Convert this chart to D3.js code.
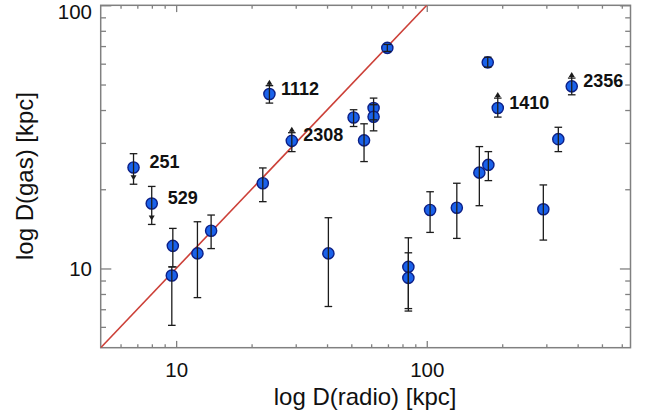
<!DOCTYPE html>
<html>
<head>
<meta charset="utf-8">
<script src="https://cdn.jsdelivr.net/npm/d3@7"></script>
<style>
  html, body { margin: 0; padding: 0; background: #fff; }
  svg { display: block; }
  text { font-family: "Liberation Sans", Arial, Helvetica, sans-serif; fill: #111; }
</style>
</head>
<body>
<div id="chart"></div>
<script>
// ---- data ----
const radio   = [6.76, 7.99, 23.56, 28.94, 192.0, 378.8, 9.70, 9.61, 12.16, 13.79, 22.17, 40.5, 51.05, 56.2, 61.35, 61.35, 69.6, 175.1, 334.9, 162.1, 176.1, 103.1, 131.8, 291.8, 84.45, 84.45];
const gas     = [24.2, 17.65, 46.0, 30.55, 40.7, 49.2, 12.19, 9.40, 11.41, 13.91, 21.08, 11.41, 37.48, 30.68, 40.7, 37.7, 68.9, 60.7, 31.0, 23.13, 24.75, 16.68, 17.02, 16.78, 10.14, 9.21];
const gasLow  = [20.9, 14.7, 42.5, 27.8, 37.6, 45.7, 10.14, 6.08, 7.75, 11.9, 17.94, 7.17, 34.63, 25.48, 36.7, 33.34, 66.8, 58.2, 27.8, 17.32, 21.57, 13.71, 13.01, 12.82, 7.04, 6.89];
const gasHigh = [27.3, 20.5, 49.5, 32.8, 44.4, 52.9, 14.2, 10.14, 15.05, 15.96, 24.1, 15.59, 40.1, 35.46, 44.4, 41.9, 71.0, 63.5, 34.4, 29.05, 27.8, 19.57, 21.08, 20.77, 13.08, 11.47];
const pointLabels = ["251", "529", "1112", "2308", "1410", "2356"];   // first six points
const limitDir    = ["down", "down", "up", "up", "up", "up"];         // first six points
const oneToOne = [5, 100];
const xDomain = [5, 650];
const yDomain = [5, 100];
const majorTicks = [10, 100];
const xMinorTicks = [6, 7, 8, 9, 20, 30, 40, 50, 60, 70, 80, 90, 200, 300, 400, 500, 600];
const yMinorTicks = [6, 7, 8, 9, 20, 30, 40, 50, 60, 70, 80, 90];
const xTitle = "log D(radio) [kpc]";
const yTitle = "log D(gas) [kpc]";

// ---- layout ----
const W = 650, H = 417;
const L = 100.7, R = 630.5, T = 5.3, B = 347.7;
const frameColor = "#808080";

const svg = d3.select("#chart").append("svg").attr("width", W).attr("height", H);

const x = d3.scaleLog().domain(xDomain).range([L, R]);
const y = d3.scaleLog().domain(yDomain).range([B, T]);

const xTickLen = 6.8, yTickLen = 10.6;
const fmt = d => String(d);

function styleAxis(g) {
  g.select(".domain").remove();
  g.selectAll(".tick line").attr("stroke", frameColor).attr("stroke-width", 1.3);
  g.selectAll(".tick text").attr("fill", "#111").style("font-size", "20.5px")
    .style("font-family", '"Liberation Sans", Arial, Helvetica, sans-serif');
}

// bottom
svg.append("g").attr("transform", `translate(0,${B})`)
  .call(d3.axisBottom(x).tickValues(majorTicks).tickFormat(fmt).tickSizeInner(-xTickLen).tickSizeOuter(0).tickPadding(15))
  .call(styleAxis);
svg.append("g").attr("transform", `translate(0,${B})`)
  .call(d3.axisBottom(x).tickValues(xMinorTicks).tickFormat("").tickSizeInner(-xTickLen / 2).tickSizeOuter(0))
  .call(styleAxis);
// top
svg.append("g").attr("transform", `translate(0,${T})`)
  .call(d3.axisTop(x).tickValues(majorTicks).tickFormat("").tickSizeInner(-xTickLen).tickSizeOuter(0))
  .call(styleAxis);
svg.append("g").attr("transform", `translate(0,${T})`)
  .call(d3.axisTop(x).tickValues(xMinorTicks).tickFormat("").tickSizeInner(-xTickLen / 2).tickSizeOuter(0))
  .call(styleAxis);
// left
const leftMajor = svg.append("g").attr("transform", `translate(${L},0)`)
  .call(d3.axisLeft(y).tickValues(majorTicks).tickFormat(fmt).tickSizeInner(-yTickLen).tickSizeOuter(0).tickPadding(8.7))
  .call(styleAxis);
// keep the top label inside the picture
leftMajor.selectAll(".tick text").filter(d => d === yDomain[1]).attr("dy", "0.62em");
svg.append("g").attr("transform", `translate(${L},0)`)
  .call(d3.axisLeft(y).tickValues(yMinorTicks).tickFormat("").tickSizeInner(-yTickLen / 2).tickSizeOuter(0))
  .call(styleAxis);
// right
svg.append("g").attr("transform", `translate(${R},0)`)
  .call(d3.axisRight(y).tickValues(majorTicks).tickFormat("").tickSizeInner(-yTickLen).tickSizeOuter(0))
  .call(styleAxis);
svg.append("g").attr("transform", `translate(${R},0)`)
  .call(d3.axisRight(y).tickValues(yMinorTicks).tickFormat("").tickSizeInner(-yTickLen / 2).tickSizeOuter(0))
  .call(styleAxis);

// frame
svg.append("rect").attr("x", L).attr("y", T).attr("width", R - L).attr("height", B - T)
  .attr("fill", "none").attr("stroke", frameColor).attr("stroke-width", 1.5);

// titles
svg.append("text").attr("x", (L + R) / 2 - 0.5).attr("y", 404.5).attr("text-anchor", "middle")
  .style("font-size", "24px").text(xTitle);
svg.append("text").attr("transform", `translate(33,176) rotate(-90)`).attr("text-anchor", "middle")
  .style("font-size", "24px").text(yTitle);

// plot clip
svg.append("clipPath").attr("id", "clip").append("rect")
  .attr("x", L).attr("y", T).attr("width", R - L).attr("height", B - T);

// 1:1 line
svg.append("line").attr("clip-path", "url(#clip)")
  .attr("x1", x(oneToOne[0])).attr("y1", y(oneToOne[0]))
  .attr("x2", x(oneToOne[1])).attr("y2", y(oneToOne[1]))
  .attr("stroke", "#cc4038").attr("stroke-width", 1.6);

const idx = d3.range(radio.length);

// markers
svg.append("g").selectAll("circle").data(idx).join("circle")
  .attr("cx", i => x(radio[i])).attr("cy", i => y(gas[i])).attr("r", 5.6)
  .attr("fill", "#1a62ea").attr("stroke", "#0c1f86").attr("stroke-width", 1.4);

// error bars (drawn over markers)
const eb = svg.append("g").attr("stroke", "#1c1c1c").attr("stroke-width", 1.3);
const cap = 3.8;
idx.forEach(i => {
  const cx = x(radio[i]), y1 = y(gasLow[i]), y2 = y(gasHigh[i]);
  eb.append("line").attr("x1", cx).attr("x2", cx).attr("y1", y1).attr("y2", y2);
  eb.append("line").attr("x1", cx - cap).attr("x2", cx + cap).attr("y1", y1).attr("y2", y1);
  eb.append("line").attr("x1", cx - cap).attr("x2", cx + cap).attr("y1", y2).attr("y2", y2);
});

// limit arrows
const ar = svg.append("g").attr("fill", "#1c1c1c");
limitDir.forEach((d, i) => {
  const cx = x(radio[i]);
  if (d === "up") {
    const yc = y(gasHigh[i]);
    ar.append("path").attr("d", `M${cx - 3},${yc - 1} L${cx + 3},${yc - 1} L${cx},${yc - 6} Z`);
    ar.append("line").attr("x1", cx).attr("x2", cx).attr("y1", yc).attr("y2", yc - 4)
      .attr("stroke", "#1c1c1c").attr("stroke-width", 1.3);
  } else {
    const yc = y(gasLow[i]);
    ar.append("path").attr("d", `M${cx - 3},${yc - 9} L${cx + 3},${yc - 9} L${cx},${yc - 4} Z`);
  }
});

// point labels
svg.append("g").selectAll("text").data(pointLabels).join("text")
  .attr("x", (t, i) => x(radio[i]) + (limitDir[i] === "down" ? 16 : 11.5))
  .attr("y", (t, i) => y(gas[i]) + 0.5)
  .style("font-size", "18px").style("font-weight", "bold").attr("fill", "#000")
  .text(t => t);
</script>
</body>
</html>
